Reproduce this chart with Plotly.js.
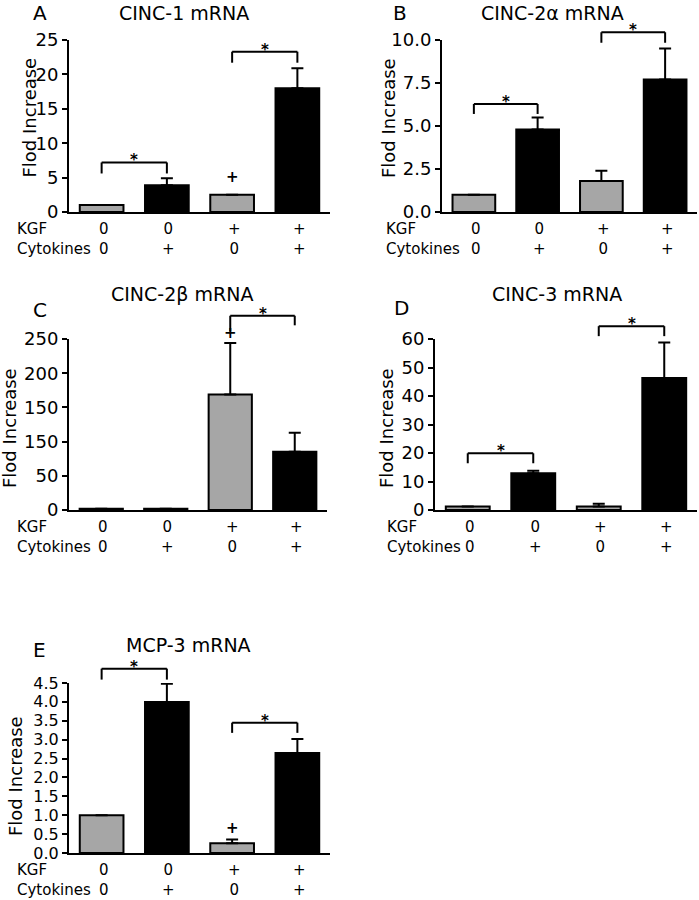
<!DOCTYPE html>
<html><head><meta charset="utf-8">
<script src="https://cdn.plot.ly/plotly-3.0.1.min.js"></script>
<style>html,body{margin:0;padding:0;background:#fff}</style>
</head><body><div id="chart" style="width:699px;height:900px"></div>
<script>
// ---------- data ----------
const categories = [0, 1, 2, 3];
const kgfLabels = ['0', '0', '+', '+'];
const cytokineLabels = ['0', '+', '0', '+'];
const barColors = ['#a6a6a6', '#000000', '#a6a6a6', '#000000'];

const cinc1Mean = [1.0, 3.9, 2.5, 18.0];
const cinc1Err  = [0, 1.0, 0, 2.9];
const cinc2aMean = [1.0, 4.8, 1.8, 7.7];
const cinc2aErr  = [0, 0.7, 0.6, 1.8];
const cinc2bMean = [2, 2, 169, 85];
const cinc2bErr  = [0, 0, 75, 28];
const cinc3Mean = [1.2, 12.9, 1.2, 46.3];
const cinc3Err  = [0, 0.9, 1.0, 12.5];
const mcp3Mean = [1.0, 4.0, 0.26, 2.65];
const mcp3Err  = [0, 0.48, 0.1, 0.37];

const cinc1Ticks = [0, 5, 10, 15, 20, 25];
const cinc1TickText = ['0', '5', '10', '15', '20', '25'];
const cinc2aTicks = [0, 2.5, 5, 7.5, 10];
const cinc2aTickText = ['0.0', '2.5', '5.0', '7.5', '10.0'];
const cinc2bTicks = [0, 50, 100, 150, 200, 250];
const cinc2bTickText = ['0', '50', '150', '150', '200', '250'];
const cinc3Ticks = [0, 10, 20, 30, 40, 50, 60];
const cinc3TickText = ['0', '10', '20', '30', '40', '50', '60'];
const mcp3Ticks = [0, 0.5, 1, 1.5, 2, 2.5, 3, 3.5, 4, 4.5];
const mcp3TickText = ['0.0', '0.5', '1.0', '1.5', '2.0', '2.5', '3.0', '3.5', '4.0', '4.5'];

// significance brackets: [from, to, top, leftDrop, rightDrop]
const cinc1Brackets = [[0, 1, 7.2, 5.6, 5.6], [2, 3, 23.3, 21.7, 21.7]];
const cinc2aBrackets = [[0, 1, 6.28, 5.7, 5.7], [2, 3, 10.45, 9.84, 9.84]];
const cinc2bBrackets = [[2, 3, 284, 261, 270]];
const cinc3Brackets = [[0, 1, 19.9, 16.4, 16.4], [2, 3, 64.5, 61, 61]];
const mcp3Brackets = [[0, 1, 4.88, 4.59, 4.59], [2, 3, 3.45, 3.18, 3.18]];
// "+" markers: [category, value]
const cinc1Plus = [[2, 5.1]];
const cinc2aPlus = [];
const cinc2bPlus = [[2, 259]];
const cinc3Plus = [];
const mcp3Plus = [[2, 0.66]];

// ---------- layout helpers ----------
const W = 699, H = 900;
const px = x => x / W;
const py = y => 1 - y / H;
const FONT = 'DejaVu Sans, Arial, sans-serif';

const panels = [
  {letter: 'A', title: 'CINC-1 mRNA', mean: cinc1Mean, err: cinc1Err, ticks: cinc1Ticks, tickText: cinc1TickText,
   brackets: cinc1Brackets, plus: cinc1Plus, tickSize: 18,
   xd: [69, 330], yd: [40, 212], L: [39.5, 13], T: [184, 13], Y: [28.5, 118], row: 16},
  {letter: 'B', title: 'CINC-2α mRNA', mean: cinc2aMean, err: cinc2aErr, ticks: cinc2aTicks, tickText: cinc2aTickText,
   brackets: cinc2aBrackets, plus: cinc2aPlus, tickSize: 18,
   xd: [442, 697], yd: [40, 212], L: [400, 13], T: [552, 13], Y: [388, 118], row: 385},
  {letter: 'C', title: 'CINC-2β mRNA', mean: cinc2bMean, err: cinc2bErr, ticks: cinc2bTicks, tickText: cinc2bTickText,
   brackets: cinc2bBrackets, plus: cinc2bPlus, tickSize: 18,
   xd: [69, 327], yd: [339, 510], L: [40, 310], T: [182, 294], Y: [10, 428], row: 16},
  {letter: 'D', title: 'CINC-3 mRNA', mean: cinc3Mean, err: cinc3Err, ticks: cinc3Ticks, tickText: cinc3TickText,
   brackets: cinc3Brackets, plus: cinc3Plus, tickSize: 18,
   xd: [435, 697], yd: [339, 510], L: [401, 308], T: [557, 294], Y: [387, 428], row: 386},
  {letter: 'E', title: 'MCP-3 mRNA', mean: mcp3Mean, err: mcp3Err, ticks: mcp3Ticks, tickText: mcp3TickText,
   brackets: mcp3Brackets, plus: mcp3Plus, tickSize: 16,
   xd: [69, 330], yd: [683, 853], L: [39.5, 650], T: [188, 645], Y: [15, 776], row: 16}
];

const traces = [];
const layout = {
  width: W, height: H, margin: {l: 0, r: 0, t: 0, b: 0},
  paper_bgcolor: '#ffffff', plot_bgcolor: '#ffffff',
  showlegend: false, font: {family: FONT, color: '#000'},
  shapes: [], annotations: []
};
const txt = (size) => ({family: FONT, size: size, color: '#000'});

panels.forEach((p, k) => {
  const n = k === 0 ? '' : String(k + 1);
  const xa = 'x' + n, ya = 'y' + n;
  const ymax = p.ticks[p.ticks.length - 1];
  traces.push({
    type: 'bar', x: categories, y: p.mean, xaxis: xa, yaxis: ya, width: 0.67,
    marker: {color: barColors, line: {color: '#000', width: 2}},
    error_y: {type: 'data', symmetric: false, array: p.err, arrayminus: p.err.map(() => 0),
              color: '#000', thickness: 2, width: 6},
    hoverinfo: 'none'
  });
  layout['xaxis' + n] = {
    domain: [px(p.xd[0]), px(p.xd[1])], anchor: ya, range: [-0.5, 3.5],
    showline: true, linecolor: '#000', linewidth: 2, showticklabels: false, ticks: '',
    showgrid: false, zeroline: false, fixedrange: true
  };
  layout['yaxis' + n] = {
    domain: [py(p.yd[1]), py(p.yd[0])], anchor: xa, range: [0, ymax],
    showline: true, linecolor: '#000', linewidth: 2, ticks: 'outside', ticklen: 5, tickwidth: 2,
    tickcolor: '#000', tickmode: 'array', tickvals: p.ticks, ticktext: p.tickText,
    tickfont: txt(p.tickSize), ticklabelstandoff: 0,
    showgrid: false, zeroline: false, fixedrange: true
  };
  const yd = ya + ' domain';
  // brackets
  p.brackets.forEach(b => {
    const [i0, i1, top, d0, d1] = b;
    const ln = {type: 'line', xref: xa, yref: yd, line: {color: '#000', width: 2}};
    layout.shapes.push(Object.assign({}, ln, {x0: i0, x1: i1, y0: top / ymax, y1: top / ymax}));
    layout.shapes.push(Object.assign({}, ln, {x0: i0, x1: i0, y0: top / ymax, y1: d0 / ymax}));
    layout.shapes.push(Object.assign({}, ln, {x0: i1, x1: i1, y0: top / ymax, y1: d1 / ymax}));
    layout.annotations.push({xref: xa, yref: yd, x: (i0 + i1) / 2, y: top / ymax, text: '<b>*</b>',
      showarrow: false, yanchor: 'bottom', yshift: -8, borderpad: 0, font: txt(15)});
  });
  p.plus.forEach(q => {
    layout.annotations.push({xref: xa, yref: yd, x: q[0], y: q[1] / ymax, text: '<b>+</b>',
      showarrow: false, yanchor: 'middle', borderpad: 0, font: txt(15)});
  });
  // condition rows (KGF row over Cytokines row)
  const rowY = py(p.yd[1] + 27);
  categories.forEach(i => {
    layout.annotations.push({xref: xa, yref: 'paper', x: i, y: rowY,
      text: kgfLabels[i] + '<br>' + cytokineLabels[i], xshift: 2, borderpad: 0,
      showarrow: false, yanchor: 'middle', font: txt(15)});
  });
  layout.annotations.push({xref: 'paper', yref: 'paper', x: px(p.row), y: rowY, text: 'KGF<br>Cytokines',
    align: 'left', borderpad: 0, showarrow: false, xanchor: 'left', yanchor: 'middle', font: txt(15)});
  // letter, title, y title
  layout.annotations.push({xref: 'paper', yref: 'paper', x: px(p.L[0]), y: py(p.L[1]), text: p.letter,
    showarrow: false, xanchor: 'center', yanchor: 'middle', borderpad: 0, font: txt(20)});
  layout.annotations.push({xref: 'paper', yref: 'paper', x: px(p.T[0]), y: py(p.T[1]), text: p.title,
    showarrow: false, xanchor: 'center', yanchor: 'middle', borderpad: 0, font: txt(19)});
  layout.annotations.push({xref: 'paper', yref: 'paper', x: px(p.Y[0]), y: py(p.Y[1]), text: 'Flod Increase',
    showarrow: false, textangle: -90, xanchor: 'center', yanchor: 'middle', borderpad: 0, font: txt(18)});
});

Plotly.newPlot('chart', traces, layout, {displayModeBar: false, staticPlot: true});
</script></body></html>
